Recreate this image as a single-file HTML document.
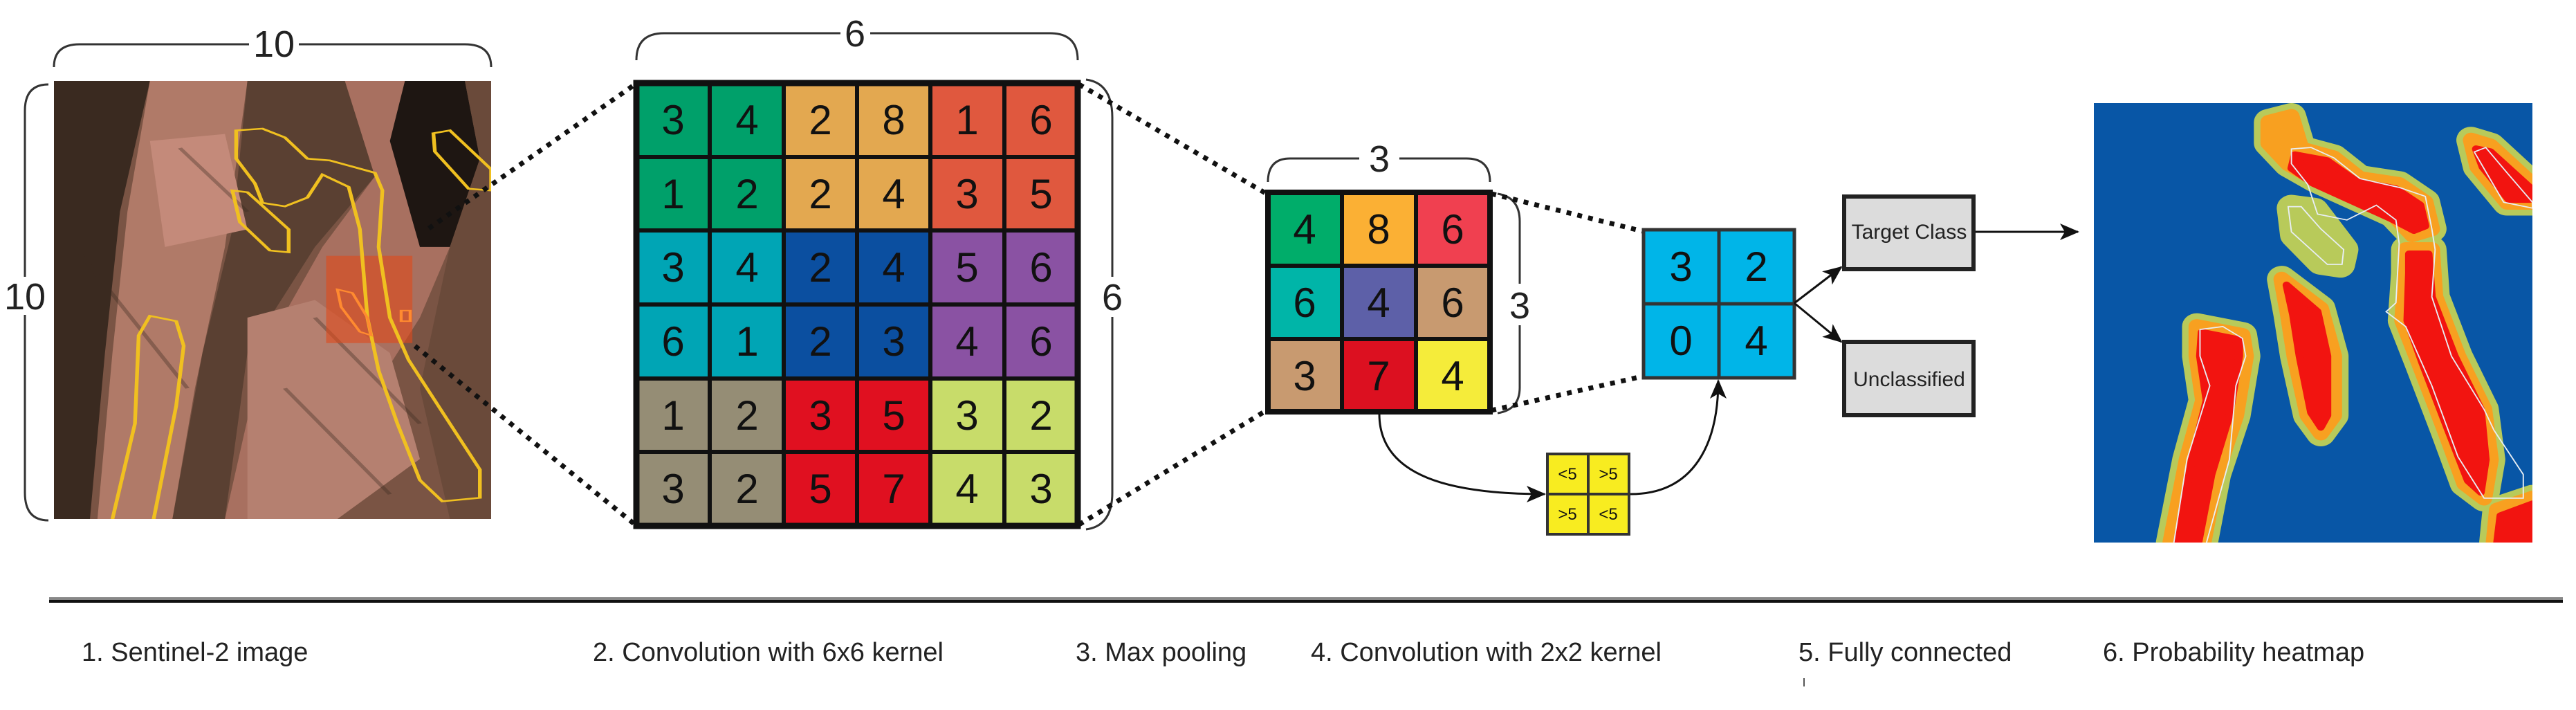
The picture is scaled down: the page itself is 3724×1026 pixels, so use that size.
<!DOCTYPE html>
<html><head><meta charset="utf-8"><style>
html,body{margin:0;padding:0;background:#fff;}
svg{display:block}
text{font-family:"Liberation Sans Narrow","Liberation Sans",sans-serif;}
</style></head><body>
<svg width="3724" height="1026" viewBox="0 0 3724 1026" xmlns="http://www.w3.org/2000/svg">
<defs>
<marker id="ahb" markerWidth="28" markerHeight="28" refX="26" refY="14" orient="auto" markerUnits="userSpaceOnUse" viewBox="0 0 28 28"><path d="M0,2 L28,14 L0,26 L7,14 Z" fill="#111"/></marker>
</defs>

<!-- Satellite image -->
<svg x="78" y="117" width="632" height="633" viewBox="72 230 583 1240" preserveAspectRatio="none">
<rect x="72" y="230" width="583" height="1240" fill="#7a5444"/>
<polygon points="72,230 200,230 160,600 140,1000 120,1470 72,1470" fill="#3a2a20"/>
<polygon points="200,230 330,230 300,700 260,1100 230,1470 130,1470 150,1000 170,600" fill="#b07a68"/>
<polygon points="330,230 460,230 500,500 420,700 330,1000 300,1470 230,1470 270,1000 310,650" fill="#5a4032"/>
<polygon points="460,230 560,230 600,700 560,900 500,1100 430,1470 300,1470 350,1000 430,700 500,500" fill="#a87060"/>
<polygon points="540,230 620,230 640,450 600,700 560,700 520,400" fill="#1e1612"/>
<polygon points="620,230 655,230 655,1470 600,1470 560,1100 600,700 640,450" fill="#6a4a3a"/>
<polygon points="330,900 420,850 520,1000 560,1300 450,1470 330,1470" fill="#b58070"/>
<polygon points="200,400 300,380 330,650 220,700" fill="#c48a7a"/>
<g stroke="#3a2a20" stroke-width="6" opacity="0.35">
<line x1="100" y1="700" x2="250" y2="1100"/><line x1="380" y1="1100" x2="520" y2="1400"/><line x1="240" y1="420" x2="330" y2="600"/><line x1="420" y1="900" x2="560" y2="1200"/>
</g>
<rect x="435" y="725" width="115" height="247" fill="#e04a1a" opacity="0.6"/>
<g fill="none" stroke="#f0c020" stroke-width="5">
<polyline points="150,1470 180,1200 185,950 200,895 235,910 245,980 235,1150 205,1470"/>
<polygon points="315,370 350,365 380,390 410,450 440,455 500,490 510,540 505,700 520,900 545,1020 600,1200 640,1330 640,1410 590,1420 560,1360 530,1200 505,1050 490,900 480,650 465,530 430,495 410,560 380,585 350,575 340,520 315,450"/>
<polygon points="310,540 330,545 385,650 385,715 360,710 320,630"/>
<polygon points="578,378 600,370 655,480 655,540 625,535 580,430"/>
</g>
<g fill="none" stroke="#ff8a30" stroke-width="4"><polygon points="450,820 470,830 490,900 495,950 480,940 455,870"/><rect x="535" y="880" width="12" height="30"/></g>
</svg>

<!-- braces -->
<g fill="none" stroke="#333" stroke-width="3">
<path d="M78,97 Q78,64 115,64 L360,64 M432,64 L672,64 Q710,64 710,97"/>
<path d="M70,122 Q36,122 36,160 L36,400 M36,455 L36,712 Q36,752 70,752"/>
<path d="M920,87 Q920,48 960,48 L1215,48 M1258,48 L1518,48 Q1558,48 1558,87"/>
<path d="M1570,115 Q1608,120 1608,170 L1608,400 M1608,458 L1608,712 Q1608,760 1570,765"/>
<path d="M1833,263 Q1833,229 1865,229 L1965,229 M2023,229 L2120,229 Q2154,229 2154,263"/>
<path d="M2165,280 Q2197,285 2197,320 L2197,410 M2197,470 L2197,560 Q2197,592 2165,597"/>
</g>
<g font-size="54" fill="#222" text-anchor="middle">
<text x="396" y="82">10</text>
<text x="36" y="447">10</text>
<text x="1236" y="67">6</text>
<text x="1608" y="448">6</text>
<text x="1994" y="248">3</text>
<text x="2197" y="460">3</text>
</g>

<!-- dotted connectors -->
<g stroke="#111" stroke-width="7" stroke-dasharray="7 9" fill="none">
<line x1="620" y1="330" x2="918" y2="122"/>
<line x1="600" y1="500" x2="918" y2="758"/>
<line x1="1560" y1="122" x2="1831" y2="280"/>
<line x1="1560" y1="758" x2="1831" y2="593"/>
<line x1="2156" y1="280" x2="2374" y2="334"/>
<line x1="2156" y1="593" x2="2374" y2="544"/>
</g>

<!-- 6x6 grid -->
<g stroke="#111" stroke-width="6">
<rect x="920" y="120" width="106" height="107" fill="#00a06a"/><rect x="1026" y="120" width="107" height="107" fill="#00a06a"/>
<rect x="1133" y="120" width="106" height="107" fill="#e3a850"/><rect x="1239" y="120" width="106" height="107" fill="#e3a850"/>
<rect x="1345" y="120" width="107" height="107" fill="#e0583e"/><rect x="1452" y="120" width="106" height="107" fill="#e0583e"/>
<rect x="920" y="227" width="106" height="106" fill="#00a06a"/><rect x="1026" y="227" width="107" height="106" fill="#00a06a"/>
<rect x="1133" y="227" width="106" height="106" fill="#e3a850"/><rect x="1239" y="227" width="106" height="106" fill="#e3a850"/>
<rect x="1345" y="227" width="107" height="106" fill="#e0583e"/><rect x="1452" y="227" width="106" height="106" fill="#e0583e"/>
<rect x="920" y="333" width="106" height="107" fill="#00a5b5"/><rect x="1026" y="333" width="107" height="107" fill="#00a5b5"/>
<rect x="1133" y="333" width="106" height="107" fill="#0b4fa0"/><rect x="1239" y="333" width="106" height="107" fill="#0b4fa0"/>
<rect x="1345" y="333" width="107" height="107" fill="#8a52a3"/><rect x="1452" y="333" width="106" height="107" fill="#8a52a3"/>
<rect x="920" y="440" width="106" height="107" fill="#00a5b5"/><rect x="1026" y="440" width="107" height="107" fill="#00a5b5"/>
<rect x="1133" y="440" width="106" height="107" fill="#0b4fa0"/><rect x="1239" y="440" width="106" height="107" fill="#0b4fa0"/>
<rect x="1345" y="440" width="107" height="107" fill="#8a52a3"/><rect x="1452" y="440" width="106" height="107" fill="#8a52a3"/>
<rect x="920" y="547" width="106" height="106" fill="#958d75"/><rect x="1026" y="547" width="107" height="106" fill="#958d75"/>
<rect x="1133" y="547" width="106" height="106" fill="#e01020"/><rect x="1239" y="547" width="106" height="106" fill="#e01020"/>
<rect x="1345" y="547" width="107" height="106" fill="#c8dc6a"/><rect x="1452" y="547" width="106" height="106" fill="#c8dc6a"/>
<rect x="920" y="653" width="106" height="107" fill="#958d75"/><rect x="1026" y="653" width="107" height="107" fill="#958d75"/>
<rect x="1133" y="653" width="106" height="107" fill="#e01020"/><rect x="1239" y="653" width="106" height="107" fill="#e01020"/>
<rect x="1345" y="653" width="107" height="107" fill="#c8dc6a"/><rect x="1452" y="653" width="106" height="107" fill="#c8dc6a"/>
<rect x="920" y="120" width="638" height="640" fill="none" stroke-width="9"/>
</g>
<g font-size="60" fill="#111" text-anchor="middle">
<text x="973" y="194">3</text><text x="1080" y="194">4</text><text x="1186" y="194">2</text><text x="1292" y="194">8</text><text x="1398" y="194">1</text><text x="1505" y="194">6</text>
<text x="973" y="301">1</text><text x="1080" y="301">2</text><text x="1186" y="301">2</text><text x="1292" y="301">4</text><text x="1398" y="301">3</text><text x="1505" y="301">5</text>
<text x="973" y="407">3</text><text x="1080" y="407">4</text><text x="1186" y="407">2</text><text x="1292" y="407">4</text><text x="1398" y="407">5</text><text x="1505" y="407">6</text>
<text x="973" y="514">6</text><text x="1080" y="514">1</text><text x="1186" y="514">2</text><text x="1292" y="514">3</text><text x="1398" y="514">4</text><text x="1505" y="514">6</text>
<text x="973" y="621">1</text><text x="1080" y="621">2</text><text x="1186" y="621">3</text><text x="1292" y="621">5</text><text x="1398" y="621">3</text><text x="1505" y="621">2</text>
<text x="973" y="727">3</text><text x="1080" y="727">2</text><text x="1186" y="727">5</text><text x="1292" y="727">7</text><text x="1398" y="727">4</text><text x="1505" y="727">3</text>
</g>

<!-- 3x3 grid -->
<g stroke="#111" stroke-width="6">
<rect x="1833" y="278" width="107" height="106" fill="#00ad6a"/><rect x="1940" y="278" width="107" height="106" fill="#fbb034"/><rect x="2047" y="278" width="107" height="106" fill="#f04050"/>
<rect x="1833" y="384" width="107" height="106" fill="#00b5a8"/><rect x="1940" y="384" width="107" height="106" fill="#5d60a8"/><rect x="2047" y="384" width="107" height="106" fill="#c89a70"/>
<rect x="1833" y="490" width="107" height="105" fill="#c89a70"/><rect x="1940" y="490" width="107" height="105" fill="#dc1020"/><rect x="2047" y="490" width="107" height="105" fill="#f5ec3a"/>
<rect x="1833" y="278" width="321" height="317" fill="none" stroke-width="8"/>
</g>
<g font-size="60" fill="#111" text-anchor="middle">
<text x="1886" y="352">4</text><text x="1993" y="352">8</text><text x="2100" y="352">6</text>
<text x="1886" y="458">6</text><text x="1993" y="458">4</text><text x="2100" y="458">6</text>
<text x="1886" y="564">3</text><text x="1993" y="564">7</text><text x="2100" y="564">4</text>
</g>

<!-- blue 2x2 -->
<g stroke="#333" stroke-width="5" fill="#00b5e8">
<rect x="2376" y="332" width="109" height="107"/><rect x="2485" y="332" width="109" height="107"/>
<rect x="2376" y="439" width="109" height="107"/><rect x="2485" y="439" width="109" height="107"/>
</g>
<g font-size="60" fill="#111" text-anchor="middle">
<text x="2430" y="406">3</text><text x="2539" y="406">2</text>
<text x="2430" y="513">0</text><text x="2539" y="513">4</text>
</g>

<!-- yellow 2x2 -->
<g stroke="#333" stroke-width="4" fill="#f8ec20">
<rect x="2237" y="656" width="59" height="58"/><rect x="2296" y="656" width="59" height="58"/>
<rect x="2237" y="714" width="59" height="58"/><rect x="2296" y="714" width="59" height="58"/>
</g>
<g font-size="24" fill="#111" text-anchor="middle">
<text x="2266" y="693">&lt;5</text><text x="2325" y="693">&gt;5</text>
<text x="2266" y="751">&gt;5</text><text x="2325" y="751">&lt;5</text>
</g>

<!-- curved arrows -->
<g fill="none" stroke="#111" stroke-width="3">
<path d="M1994,598 C1994,690 2100,714 2233,714" marker-end="url(#ahb)"/>
<path d="M2357,714 C2450,714 2484,640 2484,550" marker-end="url(#ahb)"/>
<path d="M2594,438 L2662,386" marker-end="url(#ahb)"/>
<path d="M2594,438 L2662,494" marker-end="url(#ahb)"/>
<path d="M2855,335 L3004,335" marker-end="url(#ahb)"/>
</g>

<!-- class boxes -->
<g stroke="#222" stroke-width="6" fill="#dcdcdc">
<rect x="2666" y="284" width="187" height="105"/>
<rect x="2666" y="494" width="187" height="106"/>
</g>
<g font-size="30" fill="#222" text-anchor="middle">
<text x="2760" y="345">Target Class</text>
<text x="2760" y="558">Unclassified</text>
</g>

<!-- heatmap -->
<svg x="3027" y="149" width="634" height="635" viewBox="185 45 1343 1485" preserveAspectRatio="none">
<rect x="185" y="45" width="1343" height="1485" fill="#0856a6"/>
<g stroke-linejoin="round">
<g fill="#e4e848" stroke="#e4e848" stroke-width="90" opacity="0.8">
<polygon points="500,800 640,830 650,900 620,1100 560,1300 520,1530 420,1530 470,1250 520,1050 500,900"/>
<polygon points="760,640 880,740 920,900 920,1100 880,1160 840,1100 800,900 780,760"/>
<polygon points="1140,540 1220,540 1230,700 1300,900 1380,1080 1400,1250 1380,1380 1320,1330 1260,1150 1180,920 1130,780 1140,620"/>
<polygon points="720,110 790,90 820,200 920,230 1000,300 1120,320 1200,380 1220,470 1160,490 1100,420 1020,380 940,340 860,300 780,250 720,180"/>
<polygon points="1340,170 1400,190 1528,320 1528,380 1450,380 1360,260"/>
<polygon points="1420,1420 1528,1380 1528,1530 1410,1530"/>
<polygon points="790,400 860,410 950,540 940,590 880,580 800,490"/>
</g>
<g fill="#f8a020" stroke="#f8a020" stroke-width="50">
<polygon points="500,800 640,830 650,900 620,1100 560,1300 520,1530 420,1530 470,1250 520,1050 500,900"/>
<polygon points="760,640 880,740 920,900 920,1100 880,1160 840,1100 800,900 780,760"/>
<polygon points="1140,540 1220,540 1230,700 1300,900 1380,1080 1400,1250 1380,1380 1320,1330 1260,1150 1180,920 1130,780 1140,620"/>
<polygon points="720,110 790,90 820,200 920,230 1000,300 1120,320 1200,380 1220,470 1160,490 1100,420 1020,380 940,340 860,300 780,250 720,180"/>
<polygon points="1340,170 1400,190 1528,320 1528,380 1450,380 1360,260"/>
<polygon points="1420,1420 1528,1380 1528,1530 1410,1530"/>
</g>
<g fill="#f21410" stroke="#f21410" stroke-width="24">
<polygon points="515,820 630,845 630,900 600,1100 545,1300 505,1530 440,1530 485,1250 530,1050 510,900"/>
<polygon points="775,660 870,750 900,900 900,1100 880,1140 850,1090 815,900 795,760"/>
<polygon points="1150,555 1210,555 1220,700 1290,900 1370,1080 1385,1250 1370,1360 1330,1320 1270,1150 1190,920 1145,780 1150,620"/>
<polygon points="800,220 900,240 990,310 1110,335 1185,390 1200,460 1165,475 1095,435 1015,395 935,355 855,315 790,265"/>
<polygon points="1355,200 1400,210 1520,330 1520,370 1455,370 1375,260"/>
<polygon points="1430,1440 1528,1400 1528,1530 1420,1530"/>
</g>
</g>
<g fill="none" stroke="#e8eef4" stroke-width="4">
<polyline points="430,1530 470,1250 540,1000 510,900 510,810 580,800 640,840 650,900 620,1000 600,1250 530,1530"/>
<polygon points="790,200 850,195 920,230 1000,300 1120,330 1200,360 1220,470 1230,540 1220,700 1280,900 1380,1080 1410,1150 1500,1300 1500,1380 1380,1380 1300,1240 1220,1000 1140,800 1080,750 1110,720 1120,520 1110,440 1050,390 960,440 870,420 840,320 790,250"/>
<polygon points="780,395 820,395 880,470 950,540 945,590 900,590 790,480"/>
<polygon points="1350,210 1385,195 1450,280 1528,380 1528,400 1440,380"/>
</g>
</svg>

<!-- rule -->
<rect x="71" y="863" width="3634" height="4" fill="#888"/>
<rect x="71" y="867" width="3634" height="4" fill="#111"/>

<g font-size="38" fill="#222">
<text x="118" y="955">1. Sentinel-2 image</text>
<text x="857" y="955">2. Convolution with 6x6 kernel</text>
<text x="1555" y="955">3. Max pooling</text>
<text x="1895" y="955">4. Convolution with 2x2 kernel</text>
<text x="2600" y="955">5. Fully connected</text>
<text x="3040" y="955">6. Probability heatmap</text>
</g>
<rect x="2607" y="980" width="2" height="12" fill="#555"/>
</svg>
</body></html>
